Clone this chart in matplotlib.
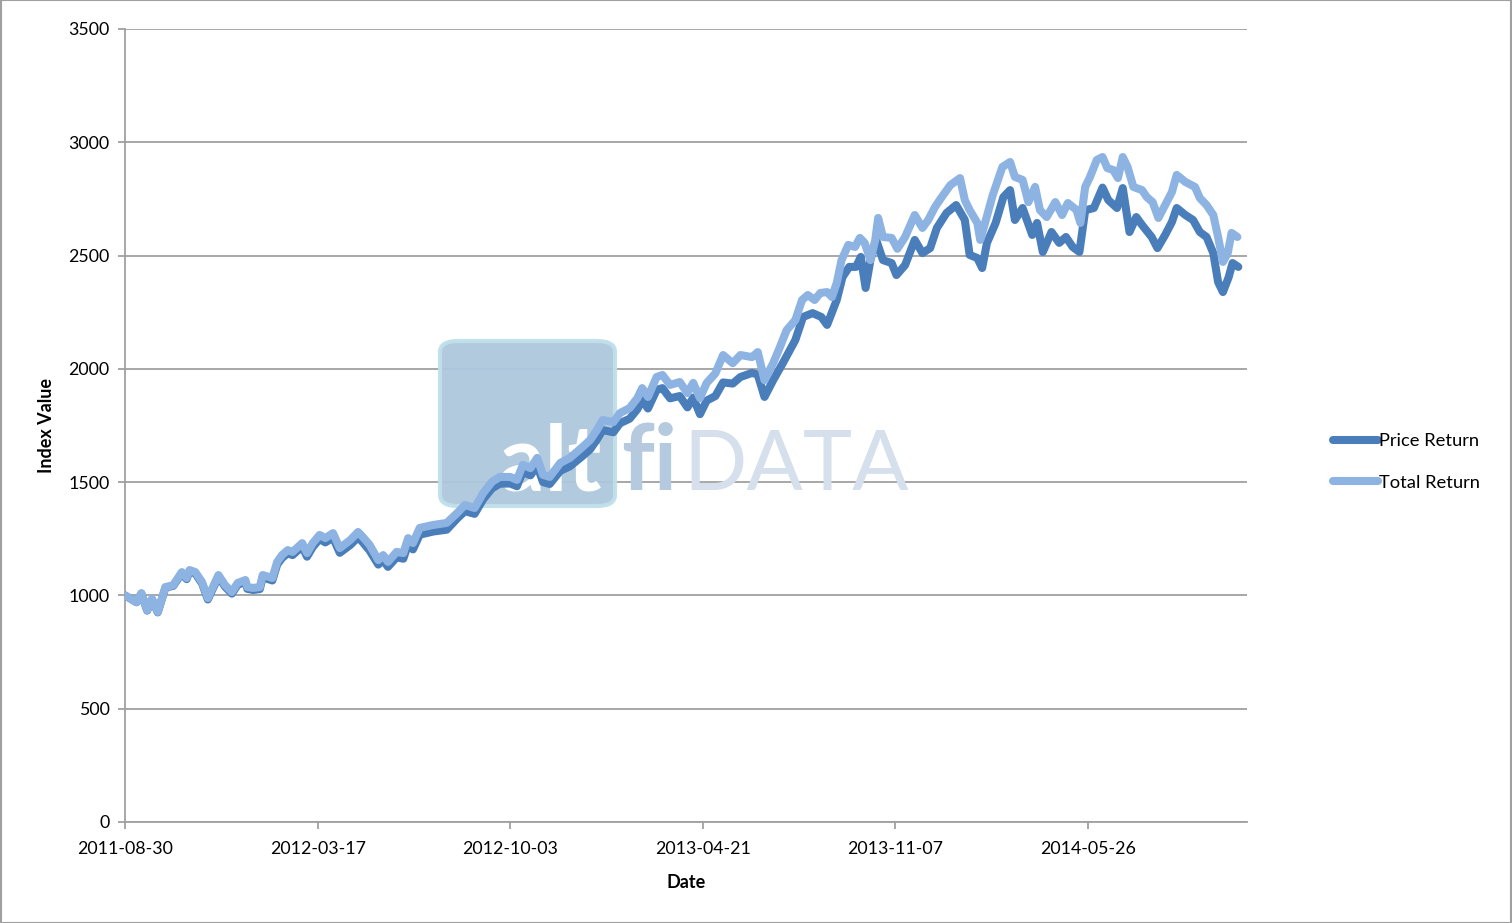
import numpy as np
import matplotlib
matplotlib.use("Agg")
from matplotlib import pyplot as plt
from matplotlib import dates as mdates
from matplotlib.patches import FancyBboxPatch, Rectangle

# values (days counted from 2011-08-30)
start_date = np.datetime64('2011-08-30')

tr_days = [0, 12, 17, 23, 28, 34, 42, 50, 59, 64, 67, 73, 80, 86, 97, 104, 111, 117, 125, 127,
           133, 140, 143, 153, 158, 163, 169, 174, 184, 189, 195, 202, 208, 216, 223, 234, 242, 247,
           254, 263, 268, 273, 282, 289, 294, 299, 306, 320, 334, 345, 353, 363, 372, 381, 389, 400,
           407, 413, 421, 428, 434, 441, 452, 462, 475, 483, 490, 496, 507, 514, 524, 532, 537, 543,
           552, 558, 566, 576, 584, 590, 597, 604, 613, 621, 631, 639, 651, 657, 664, 673, 680, 687,
           696, 703, 709, 716, 722, 729, 734, 739, 744, 751, 758, 763, 768, 774, 779, 782, 787, 796,
           802, 810, 820, 828, 834, 841, 848, 857, 867, 872, 877, 885, 888, 893, 901, 911, 919, 924,
           932, 938, 945, 950, 957, 966, 973, 979, 988, 992, 997, 1002, 1009, 1015, 1020, 1026, 1031,
           1036, 1041, 1047, 1056, 1061, 1067, 1073, 1080, 1087, 1092, 1101, 1111, 1116, 1123, 1130,
           1135, 1140, 1145, 1149, 1155]
tr_values = [1000, 970, 1010, 935, 985, 927, 1037, 1045, 1103, 1077, 1112, 1103, 1059, 988, 1090,
             1045, 1015, 1055, 1068, 1037, 1033, 1037, 1090, 1077, 1148, 1178, 1200, 1192, 1231, 1187,
             1231, 1267, 1253, 1275, 1209, 1245, 1280, 1258, 1223, 1156, 1178, 1148, 1192, 1187, 1253,
             1231, 1298, 1311, 1320, 1364, 1399, 1386, 1452, 1501, 1523, 1523, 1510, 1576, 1562, 1607,
             1532, 1523, 1585, 1607, 1655, 1686, 1730, 1774, 1765, 1805, 1827, 1871, 1915, 1876, 1964,
             1973, 1929, 1942, 1893, 1938, 1871, 1938, 1980, 2061, 2025, 2061, 2052, 2074, 1950, 2025,
             2096, 2171, 2215, 2304, 2326, 2304, 2335, 2339, 2317, 2379, 2480, 2547, 2538, 2578, 2556,
             2480, 2569, 2666, 2582, 2578, 2530, 2582, 2679, 2622, 2657, 2714, 2758, 2811, 2842, 2745,
             2701, 2644, 2569, 2644, 2767, 2891, 2913, 2847, 2834, 2736, 2803, 2701, 2670, 2736, 2679,
             2732, 2701, 2644, 2803, 2847, 2922, 2935, 2886, 2878, 2842, 2935, 2891, 2803, 2789, 2758,
             2736, 2666, 2723, 2780, 2856, 2825, 2803, 2754, 2723, 2679, 2582, 2472, 2511, 2600, 2582]

pr_days = [0, 12, 17, 23, 28, 34, 42, 50, 59, 64, 67, 73, 80, 86, 97, 104, 111, 117, 125, 127,
           133, 140, 143, 153, 158, 163, 169, 174, 184, 189, 195, 202, 208, 216, 223, 234, 242, 247,
           254, 263, 268, 273, 282, 289, 294, 299, 306, 320, 334, 345, 353, 363, 372, 381, 389, 400,
           407, 413, 421, 428, 434, 441, 452, 462, 475, 483, 490, 496, 507, 514, 524, 532, 537, 543,
           552, 558, 566, 576, 584, 590, 597, 604, 613, 621, 631, 639, 651, 657, 664, 673, 683, 696,
           704, 714, 723, 729, 739, 745, 752, 759, 764, 769, 774, 780, 787, 796, 801, 810, 820, 828,
           836, 843, 853, 863, 872, 877, 885, 890, 895, 904, 912, 919, 924, 932, 942, 947, 953, 962,
           970, 977, 984, 991, 997, 1006, 1015, 1021, 1030, 1036, 1043, 1050, 1056, 1066, 1072, 1080,
           1087, 1092, 1101, 1109, 1116, 1123, 1130, 1135, 1140, 1146, 1150, 1156]
pr_values = [1000, 970, 1008, 933, 983, 925, 1035, 1042, 1098, 1072, 1106, 1097, 1053, 982, 1083,
             1038, 1008, 1047, 1060, 1029, 1024, 1028, 1080, 1066, 1136, 1165, 1186, 1178, 1216, 1171,
             1214, 1249, 1234, 1255, 1188, 1223, 1257, 1234, 1198, 1136, 1157, 1126, 1168, 1162, 1226,
             1203, 1268, 1282, 1290, 1340, 1372, 1360, 1425, 1472, 1493, 1494, 1482, 1545, 1530, 1573,
             1500, 1492, 1550, 1570, 1615, 1645, 1688, 1730, 1720, 1760, 1780, 1822, 1862, 1825, 1907,
             1915, 1870, 1880, 1830, 1873, 1800, 1860, 1880, 1940, 1935, 1964, 1982, 1975, 1876, 1950,
             2025, 2127, 2229, 2246, 2229, 2194, 2304, 2405, 2450, 2450, 2494, 2357, 2480, 2569, 2480,
             2467, 2414, 2458, 2569, 2511, 2533, 2622, 2688, 2723, 2657, 2503, 2489, 2445, 2556, 2644,
             2758, 2789, 2657, 2710, 2591, 2644, 2516, 2604, 2556, 2582, 2538, 2516, 2700, 2710, 2800,
             2745, 2710, 2798, 2604, 2670, 2635, 2582, 2533, 2591, 2648, 2710, 2679, 2657, 2604, 2582,
             2511, 2383, 2339, 2405, 2467, 2450]

tick_dates = ['2011-08-30', '2012-03-17', '2012-10-03', '2013-04-21', '2013-11-07', '2014-05-26']
y_ticks = [0, 500, 1000, 1500, 2000, 2500, 3000, 3500]
series_names = ['Price Return', 'Total Return']

pr_color = '#4a7ebb'
tr_color = '#8db3e2'
grid_color = '#a0a0a0'

plt.rcParams['font.family'] = ['Lato', 'DejaVu Sans']

fig = plt.figure(figsize=(15.12, 9.23), dpi=100)
ax = fig.add_axes([125 / 1512, 1 - 822 / 923, (1247 - 125) / 1512, (822 - 29) / 923])

pr_dates = start_date + np.array(pr_days).astype('timedelta64[D]')
tr_dates = start_date + np.array(tr_days).astype('timedelta64[D]')

ax.plot(pr_dates, pr_values, color=pr_color, lw=5.8, solid_capstyle='round',
        solid_joinstyle='round', label=series_names[0], zorder=4)
ax.plot(tr_dates, tr_values, color=tr_color, lw=5.8, solid_capstyle='round',
        solid_joinstyle='round', label=series_names[1], zorder=5)

ax.set_xlim(start_date, start_date + np.timedelta64(1165, 'D'))
ax.set_ylim(0, 3500)
ax.set_xticks([np.datetime64(d) for d in tick_dates])
ax.xaxis.set_major_formatter(mdates.DateFormatter('%Y-%m-%d'))
ax.set_yticks(y_ticks)
ax.yaxis.grid(True, color=grid_color, lw=1.3)
ax.set_axisbelow(True)

for s in ['top', 'right']:
    ax.spines[s].set_visible(False)
for s in ['left', 'bottom']:
    ax.spines[s].set_color(grid_color)
    ax.spines[s].set_linewidth(1.3)
ax.tick_params(axis='both', colors=grid_color, labelcolor='black', labelsize=12.8,
               length=5, width=1.3, direction='out')
ax.tick_params(axis='x', pad=9)
ax.tick_params(axis='y', pad=6)

ax.set_xlabel('Date', fontsize=13, fontweight='bold', labelpad=12)
ax.set_ylabel('Index Value', fontsize=13, fontweight='bold', labelpad=10)

# watermark logo, kept under the lines
logo = FancyBboxPatch((440 / 1512, 1 - 506 / 923), 175 / 1512, 165 / 923,
                      boxstyle='round,pad=0,rounding_size=0.012', transform=fig.transFigure,
                      facecolor='#aec7dd', edgecolor='#bfe0ea', lw=3, alpha=0.95, zorder=2)
ax.add_artist(logo)
ax.text(550 / 1512, 1 - 490 / 923, 'alt', transform=fig.transFigure, fontsize=66,
        fontweight='bold', color='white', ha='center', va='baseline', zorder=3)
ax.text(649 / 1512, 1 - 490 / 923, 'fi', transform=fig.transFigure, fontsize=66,
        fontweight='bold', color='#b6cadf', ha='center', va='baseline', zorder=3)
ax.text(796 / 1512, 1 - 490 / 923, 'DATA', transform=fig.transFigure, fontsize=60,
        fontweight='normal', color='#d5e0ec', ha='center', va='baseline', zorder=3)

leg = fig.legend(loc='center left', bbox_to_anchor=(1316 / 1512, 1 - 462 / 923), frameon=False,
                 fontsize=13.2, handlelength=2.5, handletextpad=0.05, labelspacing=1.4)

fig.add_artist(Rectangle((0.0005, 0.0005), 0.999, 0.999, transform=fig.transFigure,
                         fill=False, edgecolor=grid_color, lw=1.5))

fig.savefig('out.png', dpi=100)
